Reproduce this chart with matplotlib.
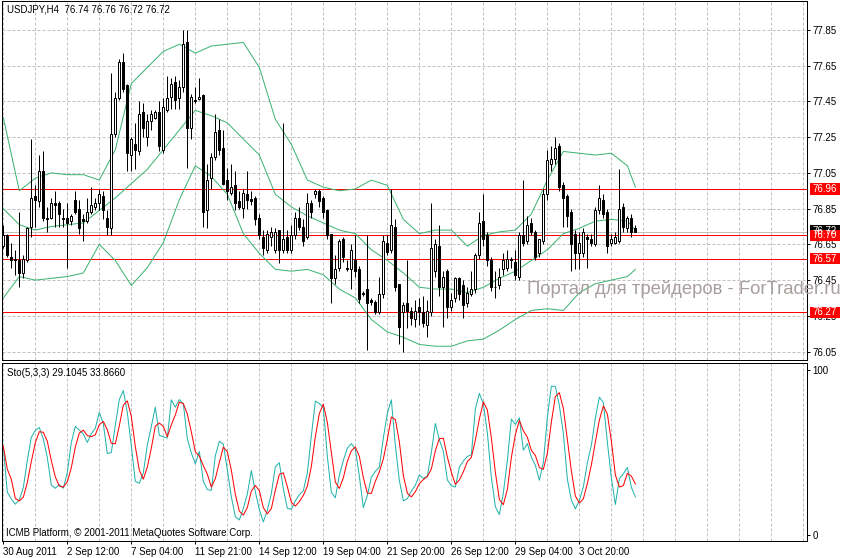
import matplotlib
matplotlib.use('Agg')
import matplotlib.pyplot as plt
import matplotlib.transforms as mtransforms
from matplotlib.patches import Rectangle
import numpy as np
import pandas as pd

plt.rcParams['font.family'] = ['Liberation Sans', 'DejaVu Sans']

# ---------------- data (USDJPY H4) ----------------
opens = [76.64, 76.70, 76.58, 76.57, 76.56, 76.49, 76.56, 76.75, 76.92, 76.89,
         77.06, 76.80, 76.80, 76.88, 76.88, 76.80, 76.80, 76.78, 76.90, 76.85,
         76.79, 76.78, 76.83, 76.86, 76.88, 76.92, 76.80, 76.74, 77.27, 77.47,
         77.67, 77.54, 77.15, 77.21, 77.17, 77.39, 77.25, 77.34, 77.36, 77.39,
         77.18, 77.40, 77.475, 77.56, 77.47, 77.53, 77.78, 77.30, 77.45, 77.465,
         77.485, 76.84, 77.02, 77.14, 77.29, 77.19, 77.01, 76.935, 76.98, 76.89,
         76.855, 76.93, 76.905, 76.91, 76.80, 76.69, 76.62, 76.69, 76.62, 76.73,
         76.62, 76.69, 76.62, 76.70, 76.80, 76.75, 76.69, 76.88, 76.93, 76.95,
         76.91, 76.84, 76.71, 76.46, 76.52, 76.68, 76.52, 76.51, 76.56, 76.51,
         76.38, 76.40, 76.34, 76.33, 76.27, 76.37, 76.66, 76.62, 76.75, 76.43,
         76.27, 76.32, 76.28, 76.23, 76.30, 76.27, 76.20, 76.27, 76.50, 76.64,
         76.41, 76.50, 76.30, 76.35, 76.46, 76.42, 76.32, 76.37, 76.40, 76.59,
         76.78, 76.70, 76.56, 76.41, 76.42, 76.51, 76.52, 76.57, 76.55, 76.47,
         76.70, 76.67, 76.77, 76.72, 76.60, 76.67, 76.93, 77.10, 77.13, 77.20,
         76.98, 76.92, 76.83, 76.71, 76.60, 76.60, 76.69, 76.68, 76.65, 76.84,
         76.90, 76.83, 76.655, 76.66, 76.67, 76.86, 76.74, 76.80, 76.74]
highs = [76.76, 76.71, 76.66, 76.62, 76.83, 76.59, 76.75, 77.24, 76.98, 77.15,
         77.17, 76.86, 76.91, 76.95, 76.89, 76.85, 76.88, 76.82, 76.95, 76.90,
         76.82, 76.91, 76.97, 76.91, 76.96, 76.95, 76.84, 77.61, 77.50, 77.69,
         77.72, 77.55, 77.25, 77.33, 77.45, 77.44, 77.38, 77.40, 77.40, 77.45,
         77.47, 77.59, 77.58, 77.59, 77.57, 77.85, 77.85, 77.49, 77.53, 77.58,
         77.49, 77.10, 77.16, 77.38, 77.35, 77.29, 77.08, 77.10, 77.06, 76.95,
         76.96, 77.06, 76.95, 76.92, 76.82, 76.73, 76.73, 76.75, 76.74, 76.73,
         77.33, 76.73, 76.76, 76.83, 76.86, 76.79, 76.94, 76.90, 76.96, 76.96,
         76.92, 76.85, 76.71, 76.59, 76.68, 76.69, 76.56, 76.65, 76.70, 76.53,
         76.39, 76.70, 76.35, 76.34, 76.47, 76.70, 76.70, 76.96, 76.79, 76.43,
         76.33, 76.56, 76.30, 76.34, 76.35, 76.36, 76.34, 76.88, 76.68, 76.76,
         76.50, 76.51, 76.38, 76.47, 76.47, 76.45, 76.41, 76.50, 76.60, 76.83,
         76.93, 76.72, 76.58, 76.50, 76.52, 76.60, 76.62, 76.58, 76.62, 76.72,
         77.01, 76.81, 76.80, 76.73, 76.68, 76.96, 77.18, 77.20, 77.25, 77.22,
         77.00, 76.93, 76.85, 76.73, 76.72, 76.74, 76.71, 76.71, 76.86, 76.98,
         76.93, 76.85, 76.71, 76.72, 77.07, 76.88, 76.81, 76.82, 76.76]
lows = [76.63, 76.58, 76.52, 76.48, 76.41, 76.46, 76.55, 76.69, 76.75, 76.86,
        76.78, 76.72, 76.79, 76.75, 76.75, 76.75, 76.52, 76.76, 76.82, 76.71,
        76.67, 76.77, 76.82, 76.84, 76.84, 76.79, 76.70, 76.70, 77.25, 77.46,
        77.50, 77.06, 77.06, 77.07, 77.15, 77.25, 77.20, 77.29, 77.35, 77.17,
        77.16, 77.39, 77.41, 77.41, 77.41, 77.50, 77.08, 77.24, 77.44, 77.46,
        76.75, 76.74, 76.96, 77.12, 77.15, 76.98, 76.90, 76.925, 76.84, 76.85,
        76.80, 76.85, 76.87, 76.76, 76.68, 76.59, 76.60, 76.64, 76.60, 76.545,
        76.60, 76.60, 76.60, 76.68, 76.73, 76.64, 76.68, 76.80, 76.91, 76.86,
        76.80, 76.68, 76.32, 76.43, 76.50, 76.55, 76.50, 76.40, 76.47, 76.32,
        76.36, 76.06, 76.31, 76.26, 76.26, 76.35, 76.59, 76.60, 76.39, 76.09,
        76.05, 76.18, 76.20, 76.19, 76.20, 76.19, 76.13, 76.25, 76.47, 76.36,
        76.19, 76.24, 76.28, 76.33, 76.34, 76.24, 76.30, 76.36, 76.38, 76.57,
        76.64, 76.53, 76.39, 76.35, 76.40, 76.48, 76.50, 76.52, 76.45, 76.45,
        76.64, 76.65, 76.70, 76.56, 76.58, 76.65, 76.90, 77.06, 77.10, 76.95,
        76.75, 76.75, 76.50, 76.51, 76.51, 76.58, 76.52, 76.64, 76.64, 76.82,
        76.80, 76.60, 76.64, 76.65, 76.66, 76.72, 76.72, 76.69, 76.72]
closes = [76.70, 76.59, 76.56, 76.56, 76.49, 76.57, 76.74, 76.91, 76.90, 77.06,
          76.80, 76.79, 76.88, 76.87, 76.82, 76.79, 76.77, 76.81, 76.83, 76.74,
          76.78, 76.83, 76.87, 76.88, 76.93, 76.84, 76.75, 77.27, 77.47, 77.67,
          77.52, 77.16, 77.24, 77.18, 77.38, 77.30, 77.34, 77.38, 77.39, 77.20,
          77.42, 77.47, 77.55, 77.46, 77.53, 77.77, 77.30, 77.475, 77.46, 77.475,
          76.83, 77.01, 77.14, 77.28, 77.18, 76.99, 76.95, 76.97, 76.88, 76.86,
          76.94, 76.90, 76.895, 76.79, 76.70, 76.63, 76.71, 76.72, 76.72, 76.62,
          76.68, 76.62, 76.70, 76.80, 76.75, 76.67, 76.88, 76.83, 76.95, 76.89,
          76.83, 76.70, 76.46, 76.51, 76.67, 76.58, 76.51, 76.62, 76.50, 76.345,
          76.37, 76.32, 76.33, 76.27, 76.37, 76.67, 76.61, 76.76, 76.41, 76.19,
          76.31, 76.28, 76.24, 76.28, 76.27, 76.21, 76.28, 76.63, 76.65, 76.41,
          76.47, 76.30, 76.34, 76.46, 76.37, 76.31, 76.38, 76.40, 76.59, 76.77,
          76.68, 76.56, 76.41, 76.41, 76.47, 76.56, 76.57, 76.56, 76.48, 76.70,
          76.66, 76.76, 76.72, 76.58, 76.68, 76.93, 77.12, 77.13, 77.19, 76.97,
          76.91, 76.81, 76.65, 76.60, 76.66, 76.72, 76.68, 76.66, 76.84, 76.91,
          76.82, 76.64, 76.68, 76.69, 76.85, 76.75, 76.80, 76.72, 76.72]

# Bollinger bands at every 4th bar
band_idx = list(range(0, 157, 4)) + [158]
bb_upper = [77.36, 76.95, 77.02, 77.05, 77.04, 77.04, 77.01, 77.18, 77.55, 77.64,
            77.73, 77.77, 77.72, 77.76, 77.77, 77.78, 77.64, 77.35, 77.21, 77.01,
            76.97, 76.95, 76.96, 77.01, 76.98, 76.79, 76.71, 76.73, 76.73, 76.64,
            76.70, 76.72, 76.73, 76.82, 77.01, 77.17, 77.16, 77.15, 77.16, 77.09,
            76.97]
bb_middle = [76.85, 76.76, 76.73, 76.75, 76.76, 76.77, 76.84, 76.91, 76.99, 77.07,
             77.18, 77.29, 77.40, 77.37, 77.33, 77.24, 77.15, 76.93, 76.86, 76.81,
             76.77, 76.73, 76.71, 76.62, 76.56, 76.49, 76.41, 76.40, 76.40, 76.38,
             76.41, 76.46, 76.50, 76.56, 76.62, 76.71, 76.74, 76.78, 76.79, 76.78,
             76.73]
bb_lower = [76.35, 76.47, 76.45, 76.46, 76.47, 76.49, 76.65, 76.56, 76.42, 76.52,
            76.66, 76.90, 77.09, 77.03, 76.93, 76.71, 76.60, 76.51, 76.50, 76.51,
            76.48, 76.40, 76.35, 76.23, 76.16, 76.13, 76.09, 76.08, 76.08, 76.11,
            76.12, 76.17, 76.23, 76.28, 76.29, 76.28, 76.38, 76.43, 76.45, 76.47,
            76.51]

label_idx = [0, 16, 32, 48, 64, 80, 96, 112, 128, 144]
time_labels = ['30 Aug 2011', '2 Sep 12:00', '7 Sep 04:00', '11 Sep 21:00',
               '14 Sep 12:00', '19 Sep 04:00', '21 Sep 20:00', '26 Sep 12:00',
               '29 Sep 04:00', '3 Oct 20:00']
price_ticks = [77.85, 77.65, 77.45, 77.25, 77.05, 76.85, 76.65, 76.45, 76.25, 76.05]
level_lines = [76.96, 76.70, 76.57, 76.27]
bid_price = 76.72
title_text = 'USDJPY,H4  76.74 76.76 76.72 76.72'
sto_text = 'Sto(5,3,3) 29.1045 33.8660'
copyright_text = 'ICMB Platform, \u00a9 2001-2011 MetaQuotes Software Corp.'
watermark = 'Портал для трейдеров - ForTrader.ru'

# ---------------- figure ----------------
W, H = 845, 558
fig = plt.figure(figsize=(W / 100, H / 100), dpi=100)
fig.patch.set_facecolor('white')


def px_rect(l, t, r, b):
    return [l / W, 1 - b / H, (r - l) / W, (b - t) / H]


ax = fig.add_axes(px_rect(2, 1, 807, 360))
ax2 = fig.add_axes(px_rect(2, 363, 807, 541), sharex=ax)

LW = 0.72  # 1 px
GRID = '#c0c0c0'
n = len(closes)
x = np.arange(n)
o = np.array(opens); h = np.array(highs); l = np.array(lows); c = np.array(closes)

xmin, xmax = -0.325, 200.9
ax.set_xlim(xmin, xmax)
ax.set_ylim(76.003, 78.012)
ax2.set_ylim(-3.8, 104.4)

# grids
for gi in range(0, 201, 8):
    for a in (ax, ax2):
        a.axvline(gi, color=GRID, lw=LW, ls=(0, (3, 2)), zorder=0)
for p in price_ticks:
    ax.axhline(p, color=GRID, lw=LW, ls=(0, (3, 2)), zorder=0)

# level lines
ax.axhline(bid_price, color='#c0c0c0', lw=LW, zorder=1)
for lv in level_lines:
    ax.axhline(lv, color='#ff0000', lw=LW, zorder=1)

# bollinger bands
bb_col = '#3cb371'
for band in (bb_upper, bb_middle, bb_lower):
    ax.plot(band_idx, band, color=bb_col, lw=LW, zorder=2)

# candles
ax.vlines(x, l, h, color='black', lw=LW, zorder=3)
bull = c >= o
body_h = np.maximum(np.abs(c - o), 0.002)
ax.bar(x[bull], body_h[bull], bottom=np.minimum(o, c)[bull], width=0.5,
       color='white', edgecolor='black', linewidth=LW, zorder=4)
ax.bar(x[~bull], body_h[~bull], bottom=np.minimum(o, c)[~bull], width=0.5,
       color='black', edgecolor='black', linewidth=LW, zorder=4)

# stochastic (5,3,3)
cs, hs, ls_ = pd.Series(c), pd.Series(h), pd.Series(l)
ll5 = ls_.rolling(5, min_periods=1).min()
hh5 = hs.rolling(5, min_periods=1).max()
num = (cs - ll5).rolling(3, min_periods=1).sum()
den = (hh5 - ll5).rolling(3, min_periods=1).sum()
k = 100 * num / den
d = k.rolling(3, min_periods=1).mean()
ax2.plot(x, k, color='#20b2aa', lw=LW, zorder=3)
ax2.plot(x, d, color='#ff0000', lw=LW, zorder=4)

# axes styling
for a in (ax, ax2):
    for s in a.spines.values():
        s.set_color('black')
        s.set_linewidth(LW)
    a.yaxis.tick_right()
    a.tick_params(axis='y', direction='out', length=2.2, width=LW, pad=1.8,
                  labelsize=7, colors='black')
ax.set_yticks(price_ticks)
ax.set_yticklabels(['%.2f' % p for p in price_ticks])
ax.tick_params(axis='x', bottom=False, labelbottom=False)
ax2.set_yticks([0, 100])
ax2.set_yticklabels(['0', '100'])
ax2.set_xticks(label_idx)
ax2.set_xticklabels(time_labels)
ax2.tick_params(axis='x', direction='out', length=2.5, width=LW, pad=2,
                labelsize=7)
for t in ax2.get_xticklabels():
    t.set_ha('left')

# price boxes on the right axis
blend = mtransforms.blended_transform_factory(ax.transAxes, ax.transData)
px_per_unit = 359 / (78.012 - 76.003)
bx0 = (810 - 2) / 805
bw = 30 / 805
bh = 11.5 / px_per_unit


def price_box(price, fc, label):
    ax.add_patch(Rectangle((bx0, price - bh / 2), bw, bh, transform=blend,
                           facecolor=fc, edgecolor='none', clip_on=False, zorder=10))
    ax.text(bx0 + bw / 2, price, label, transform=blend, color='white',
            fontsize=7, ha='center', va='center', clip_on=False, zorder=11)


price_box(bid_price + 0.005, 'black', '%.2f' % bid_price)
for lv in level_lines:
    price_box(lv, '#ff0000', '%.2f' % lv)

# texts
ax.text(5 / 805, 1 - 8 / 359, title_text, transform=ax.transAxes, fontsize=7,
        ha='left', va='center', color='black')
ax2.text(5 / 805, 1 - 10 / 178, sto_text, transform=ax2.transAxes, fontsize=7,
         ha='left', va='center', color='black')
ax2.text(4 / 805, 8.5 / 178, copyright_text, transform=ax2.transAxes, fontsize=7,
         ha='left', va='center', color='black')
fig.text(527 / W, 1 - 289 / H, watermark, fontsize=13.3, color='#a89e9e',
         ha='left', va='center', zorder=20)

fig.savefig('out.png', dpi=100)
